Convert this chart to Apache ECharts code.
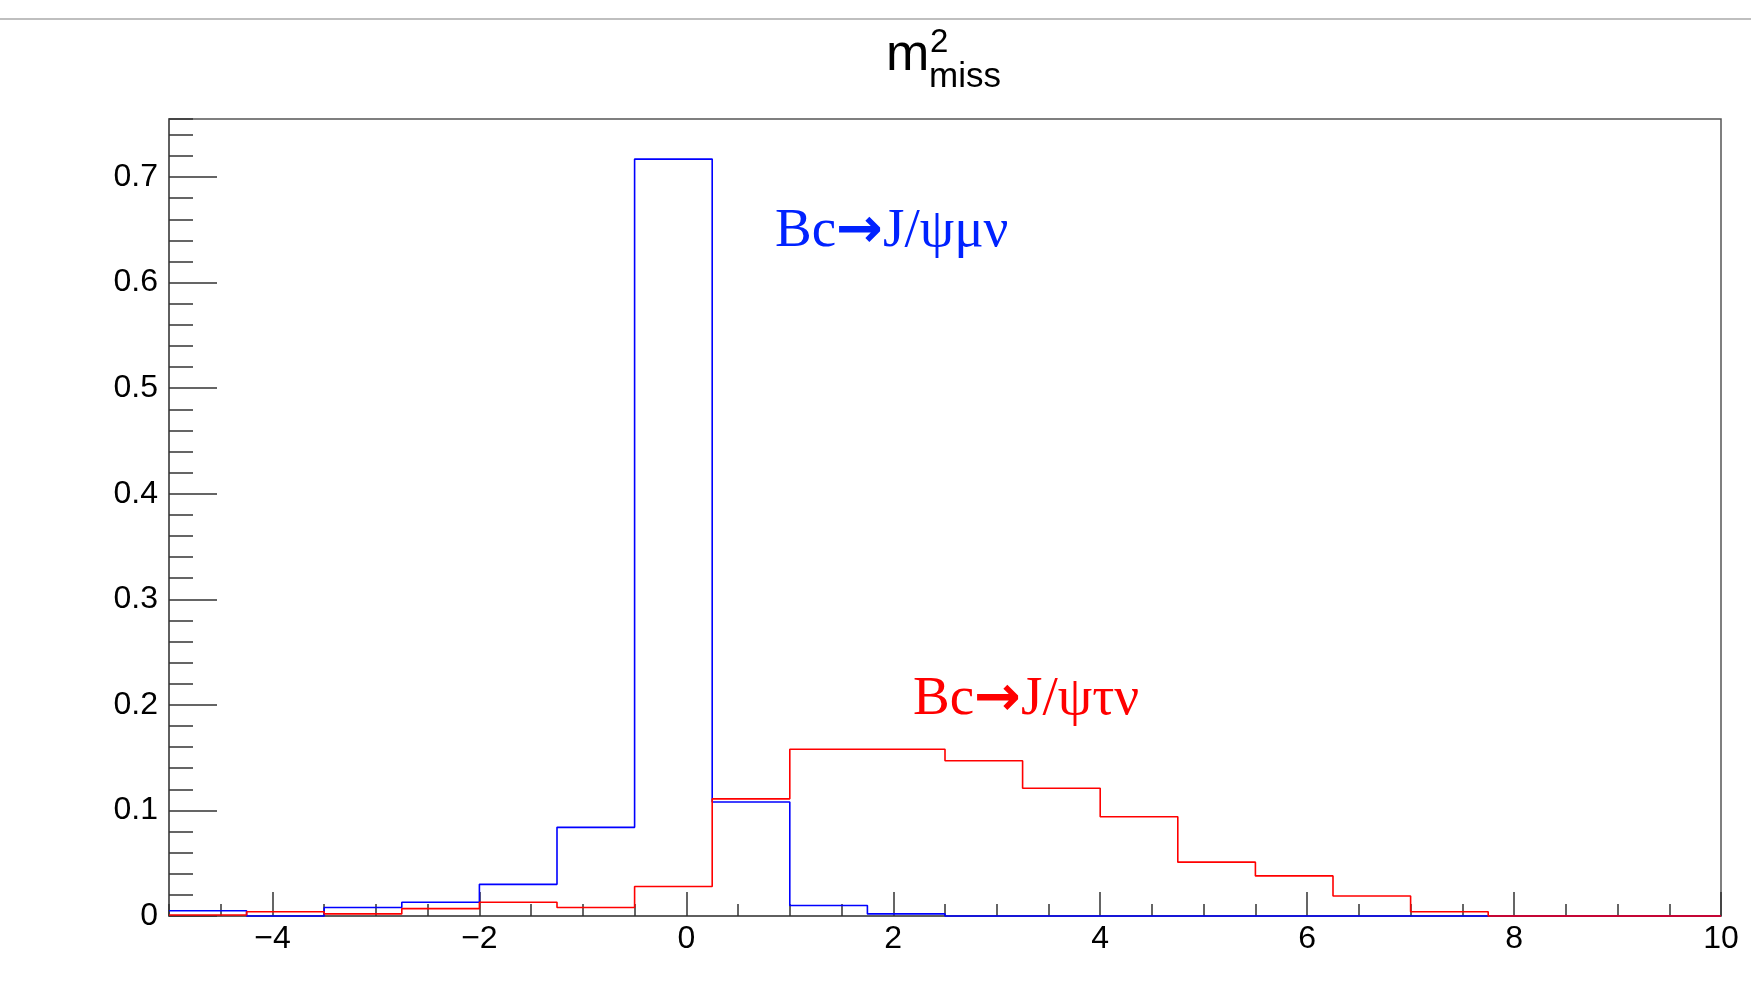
<!DOCTYPE html>
<html>
<head>
<meta charset="utf-8">
<script src="https://cdn.jsdelivr.net/npm/echarts@6/dist/echarts.min.js"></script>
<style>
  html, body { margin: 0; padding: 0; background: #fff; }
  #chart { width: 1751px; height: 988px; }
</style>
</head>
<body>
<div id="chart"></div>
<script>
// bin edges of the m2_miss histogram (20 bins, width 0.75)
const binEdges = [-5, -4.25, -3.5, -2.75, -2, -1.25, -0.5, 0.25, 1, 1.75, 2.5,
  3.25, 4, 4.75, 5.5, 6.25, 7, 7.75, 8.5, 9.25, 10]
// normalised bin contents
const muNu = [0.005, 0, 0.008, 0.013, 0.030, 0.084, 0.717, 0.108, 0.010, 0.002,
  0, 0, 0, 0, 0, 0, 0, 0, 0, 0]
const tauNu = [0.001, 0.004, 0.002, 0.007, 0.013, 0.008, 0.028, 0.111, 0.158, 0.158,
  0.147, 0.121, 0.094, 0.051, 0.038, 0.019, 0.004, 0, 0, 0]
const xMajorTicks = [-4, -2, 0, 2, 4, 6, 8, 10]
const yMajorTicks = [0, 0.1, 0.2, 0.3, 0.4, 0.5, 0.6, 0.7]

const AXIS = '#555'
const FONT = '"Liberation Sans", Arial, Helvetica, sans-serif'
const SERIF = '"Liberation Serif", "Times New Roman", serif'

// step outline: each edge carries the content of the bin it opens, last edge repeats the last bin
const toSteps = vals => binEdges.map((e, i) => [e, vals[Math.min(i, vals.length - 1)]])

const chart = echarts.init(document.getElementById('chart'), null, { renderer: 'canvas' })

const fmtX = v => (v < 0 ? '\u2212' + Math.abs(v) : String(v))

const labelRich = color => ({
  t: { fontFamily: SERIF, fontSize: 55, fill: color },
  arr: { fontFamily: '"DejaVu Sans", sans-serif', fontSize: 56, fontWeight: 'bold', fill: color }
})

chart.setOption({
  animation: false,
  backgroundColor: '#fff',
  grid: { left: 169, right: 30, top: 119, bottom: 72, show: true, borderColor: AXIS, borderWidth: 1.5 },
  xAxis: [
    {
      type: 'value', min: -5, max: 10,
      axisLine: { show: true, onZero: false, lineStyle: { color: AXIS, width: 1.5 } },
      axisTick: { show: true, inside: true, length: 24, customValues: xMajorTicks, lineStyle: { color: '#333', width: 1.5 } },
      axisLabel: { customValues: xMajorTicks, formatter: fmtX, color: '#000', fontSize: 32, fontFamily: FONT, margin: 7 },
      splitLine: { show: false }
    },
    {
      type: 'value', min: -5, max: 10, interval: 0.5, position: 'bottom',
      axisLine: { show: false, onZero: false },
      axisTick: { show: true, inside: true, length: 12, lineStyle: { color: '#333', width: 1.5 } },
      axisLabel: { show: false },
      splitLine: { show: false }
    }
  ],
  yAxis: [
    {
      type: 'value', min: 0, max: 0.755,
      axisLine: { show: true, onZero: false, lineStyle: { color: AXIS, width: 1.5 } },
      axisTick: { show: true, inside: true, length: 48, customValues: yMajorTicks, lineStyle: { color: '#333', width: 1.5 } },
      axisLabel: { customValues: yMajorTicks, color: '#000', fontSize: 32, fontFamily: FONT, margin: 11 },
      splitLine: { show: false }
    },
    {
      type: 'value', min: 0, max: 0.755, interval: 0.02, position: 'left',
      axisLine: { show: false, onZero: false },
      axisTick: { show: true, inside: true, length: 24, lineStyle: { color: '#333', width: 1.5 } },
      axisLabel: { show: false },
      splitLine: { show: false }
    }
  ],
  series: [
    {
      name: 'Bc→J/ψμν', type: 'line', step: 'end', symbol: 'none', clip: false,
      data: toSteps(muNu),
      lineStyle: { color: '#0000ff', width: 1.6 }
    },
    {
      name: 'Bc→J/ψτν', type: 'line', step: 'end', symbol: 'none', clip: false,
      data: toSteps(tauNu),
      lineStyle: { color: '#ff0000', width: 1.6 }
    }
  ],
  graphic: [
    { type: 'line', shape: { x1: 0, y1: 19, x2: 1751, y2: 19 }, style: { stroke: '#aaa', lineWidth: 1.5 } },
    { type: 'text', x: 886, y: 56, style: { text: 'm', font: `52px ${FONT}`, fill: '#000', textVerticalAlign: 'middle' } },
    { type: 'text', x: 930, y: 43, style: { text: '2', font: `33px ${FONT}`, fill: '#000', textVerticalAlign: 'middle' } },
    { type: 'text', x: 929, y: 77, style: { text: 'miss', font: `35px ${FONT}`, fill: '#000', textVerticalAlign: 'middle' } },
    { type: 'text', x: 775, y: 232, style: { text: '{t|Bc}{arr|→}{t|J/ψμν}', rich: labelRich('#0022ff'), textVerticalAlign: 'middle' } },
    { type: 'text', x: 913, y: 700, style: { text: '{t|Bc}{arr|→}{t|J/ψτν}', rich: labelRich('#ff0000'), textVerticalAlign: 'middle' } }
  ]
})

window.addEventListener('resize', () => chart.resize())
</script>
</body>
</html>
